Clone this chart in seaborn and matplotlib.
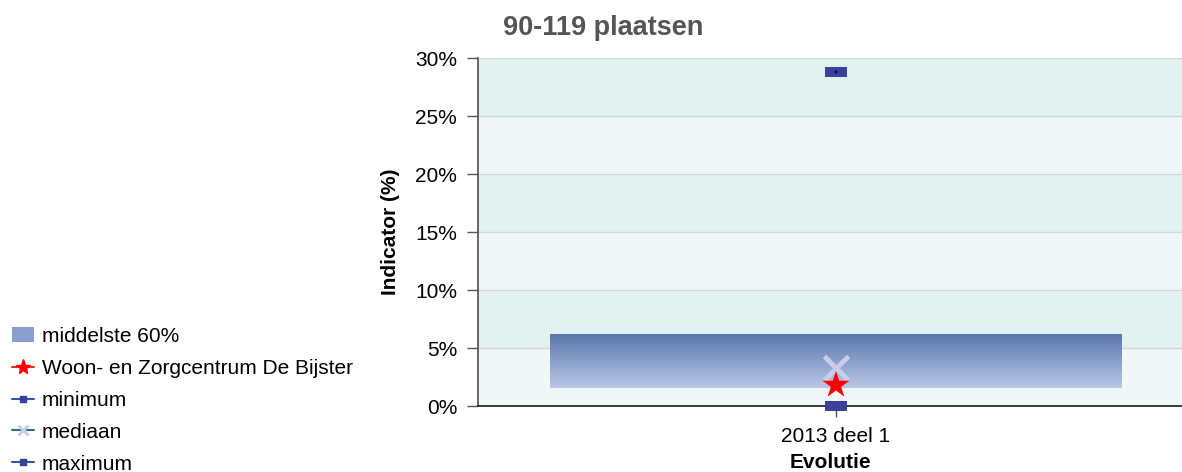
import numpy as np
import pandas as pd
import seaborn as sns
import matplotlib.pyplot as plt
from matplotlib.lines import Line2D
from matplotlib.patches import Patch
from matplotlib.colors import LinearSegmentedColormap

periods = ["2013 deel 1"]
p20 = [1.55]
p80 = [6.2]
minimum = [0.0]
mediaan = [3.3]
maximum = [28.8]
eigen = [1.8]  # Woon- en Zorgcentrum De Bijster
yticks = [0, 5, 10, 15, 20, 25, 30]

sns.set_theme(style="white")
plt.rcParams['font.family'] = ['Liberation Sans', 'DejaVu Sans']

fig = plt.figure(figsize=(11.82, 4.72), dpi=100)
ax = fig.add_axes([478/1182, 66/472, 704/1182, 348/472])

df = pd.DataFrame({"periode": periods, "p20": p20, "p80": p80, "min": minimum,
                   "med": mediaan, "max": maximum, "eigen": eigen})
df["x"] = np.arange(len(df))

# alternating background bands
for i in range(len(yticks) - 1):
    c = "#f0f7f6" if i % 2 == 0 else "#e2f2f0"
    ax.axhspan(yticks[i], yticks[i+1], color=c, zorder=0, lw=0)
for t in yticks[1:]:
    ax.axhline(t, color="#d2d8d8", lw=1, zorder=1)

# middelste 60% box with gradient
grad = np.linspace(0, 1, 256).reshape(-1, 1)
cmap = LinearSegmentedColormap.from_list("band", ["#bac8e8", "#5a76ac"])
for _, r in df.iterrows():
    ax.imshow(grad, aspect="auto", cmap=cmap, origin="lower",
              extent=[r.x - 0.406, r.x + 0.406, r.p20, r.p80], zorder=2)

rect = [(-2.2, -1), (2.2, -1), (2.2, 1), (-2.2, 1)]
sns.scatterplot(data=df, x="x", y="max", marker=rect, s=260, color="#3b409a",
                edgecolor="none", ax=ax, zorder=4)
sns.scatterplot(data=df, x="x", y="min", marker=rect, s=260, color="#3b409a",
                edgecolor="none", ax=ax, zorder=4, clip_on=False)
sns.scatterplot(data=df, x="x", y="max", marker="o", s=6, color="#0a0a60",
                edgecolor="none", ax=ax, zorder=5)
sns.scatterplot(data=df, x="x", y="med", marker="x", s=300, color="#c9cee8",
                linewidth=3.5, ax=ax, zorder=4)
sns.scatterplot(data=df, x="x", y="eigen", marker="*", s=420, color="#ff0000",
                edgecolor="none", ax=ax, zorder=5)

ax.set_xlim(-0.5085, 0.4915)
ax.set_ylim(0, 30)
ax.set_yticks(yticks)
ax.set_yticklabels([f"{t}%" for t in yticks], fontsize=15, color="black")
ax.set_xticks(df["x"])
ax.set_xticklabels(periods, fontsize=15, color="black")
ax.tick_params(axis="both", length=8, width=1, color="#555555", left=True, bottom=True, pad=7)
for s in ["top", "right"]:
    ax.spines[s].set_visible(False)
ax.spines["left"].set_color("#555555")
ax.spines["bottom"].set_color("#222222")
ax.set_ylabel("Indicator (%)", fontsize=15, fontweight="bold", labelpad=11, color="black")
ax.set_xlabel("Evolutie", fontsize=15, fontweight="bold", labelpad=5, color="black")

fig.text(603/1182, 1 - 28/472, "90-119 plaatsen", ha="center", va="center",
         fontsize=19.5, fontweight="bold", color="#555555")

handles = [
    Patch(facecolor="#8a9fcf", edgecolor="none"),
    Line2D([], [], color="#e03020", marker="*", markersize=11, markerfacecolor="#ff0000",
           markeredgecolor="#ff0000", lw=1.5),
    Line2D([], [], color="#2c5aa0", marker="s", markersize=5, markerfacecolor="#3b409a",
           markeredgecolor="#3b409a", lw=1.5),
    Line2D([], [], color="#2f6f7f", marker="x", markersize=7, markeredgecolor="#c9cee8",
           markeredgewidth=2, lw=1.5),
    Line2D([], [], color="#2c5aa0", marker="s", markersize=5, markerfacecolor="#3b409a",
           markeredgecolor="#3b409a", lw=1.5),
]
labels = ["middelste 60%", "Woon- en Zorgcentrum De Bijster", "minimum", "mediaan", "maximum"]
leg = fig.legend(handles, labels, loc="upper left", bbox_to_anchor=(12/1182, 1 - 327/472),
                 frameon=False, fontsize=15, handlelength=1.05, handletextpad=0.38,
                 labelspacing=0.62, borderaxespad=0, borderpad=0)
for t in leg.get_texts():
    t.set_color("black")

fig.savefig("out.png", dpi=100)
